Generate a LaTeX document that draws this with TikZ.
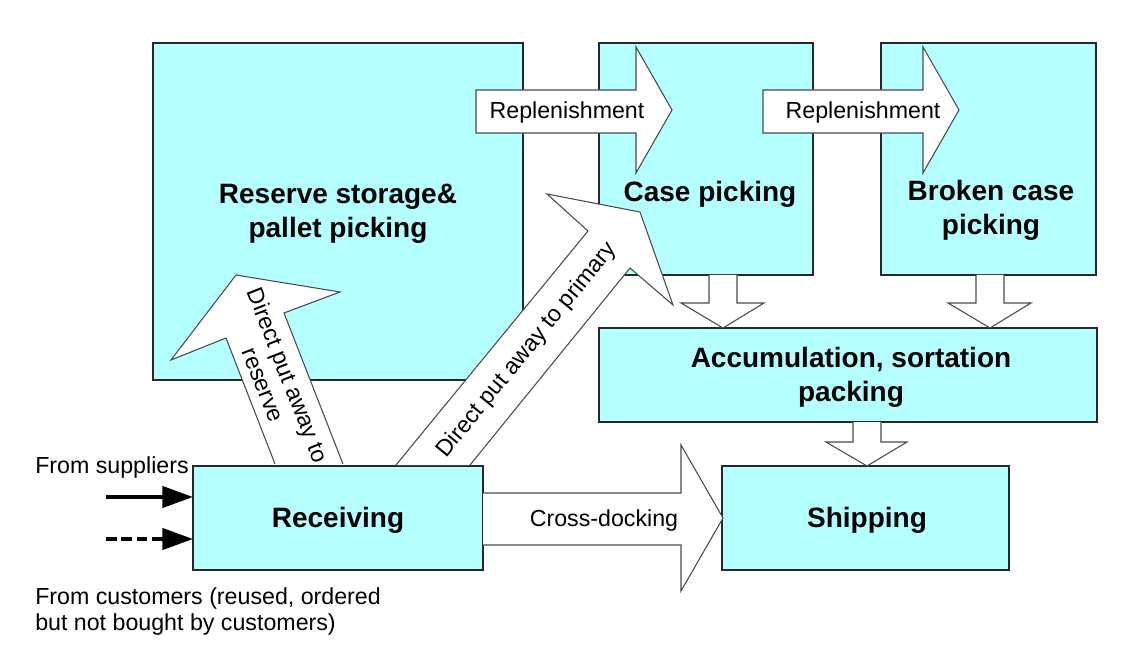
\documentclass[tikz,border=0pt]{standalone}
\usepackage{fontspec}
\setmainfont{Liberation Sans}
\usetikzlibrary{arrows.meta}
\definecolor{boxfill}{RGB}{180,255,255}
\definecolor{edgec}{RGB}{40,40,40}
\definecolor{aedge}{RGB}{75,75,75}
\newcommand\myboxfont{\fontsize{21}{25.5}\selectfont\bfseries}
\newcommand\mylblfont{\fontsize{17.4}{20}\selectfont}
\begin{document}
\begin{tikzpicture}[x=0.75pt,y=-0.75pt,
  box/.style={draw=edgec, line width=1.2pt, fill=boxfill, inner sep=0pt, outer sep=0pt},
  barrow/.style={draw=aedge, line width=0.8pt, fill=white, line join=miter},
  lbl/.style={inner sep=0pt, font=\mylblfont, align=center},
  ttl/.style={inner sep=0pt, font=\myboxfont, align=center, yshift=-2pt},
  feed/.style={line width=2.4pt, -{Triangle[length=23pt,width=16pt]}}]
\useasboundingbox (0,0) rectangle (1133,649);
% boxes
\node[box, minimum width=277.5pt, minimum height=252.75pt] (res) at (338,211.5) {};
\node[box, minimum width=160.5pt, minimum height=174pt] (case) at (706,159) {};
\node[box, minimum width=161.25pt, minimum height=174pt] (brk) at (988.5,159) {};
\node[box, minimum width=373.5pt, minimum height=70.5pt] (acc) at (848,375) {};
\node[box, minimum width=217.5pt, minimum height=78pt] (rcv) at (338,518) {};
\node[box, minimum width=215.25pt, minimum height=78pt] (shp) at (865.5,518) {};
\node[ttl] (restxt) at (res.center) {Reserve storage\&\\pallet picking};
\node[ttl] (acctxt) at (851,375) {Accumulation, sortation\\packing};
\node[ttl] (rcvtxt) at (rcv.center) {Receiving};
\node[ttl] (shptxt) at (867,518) {Shipping};
\node[ttl] (casetxt) at (710,192) {Case picking};
\node[ttl] (brktxt) at (991,208) {Broken case\\picking};
% replenishment arrows
\draw[barrow] (476,90) -- (636,90) -- (636,47) -- (672,110) -- (636,173) -- (636,133) -- (476,133) -- cycle;
\node[lbl, yshift=-2pt] (rep1) at (567,110) {Replenishment};
\draw[barrow] (763,90) -- (923,90) -- (923,47) -- (959,110) -- (923,173) -- (923,133) -- (763,133) -- cycle;
\node[lbl, yshift=-2pt] (rep2) at (863,110) {Replenishment};
% down arrows
\draw[barrow] (709,275) -- (709,303) -- (681,303) -- (723,328) -- (764,303) -- (737,303) -- (737,275);
\draw[barrow] (976,275) -- (976,303) -- (948,303) -- (990,328) -- (1031,303) -- (1004,303) -- (1004,275);
\draw[barrow] (853,422) -- (853,442) -- (826,442) -- (867,466) -- (907,442) -- (881,442) -- (881,422);
% cross docking
\draw[barrow] (483,493) -- (681,493) -- (681,445) -- (723,518) -- (681,591) -- (681,545) -- (483,545);
\node[lbl, yshift=-2pt] (xd) at (604,518) {Cross-docking};
% direct put away to primary
\draw[barrow] (396,465) -- (588,231) -- (547,194) -- (640,212) -- (673,305) -- (630,268) -- (470,465);
\node[lbl, rotate=50.7] (dpp) at (527,350) {Direct put away to primary};
% direct put away to reserve
\draw[barrow] (275,464) -- (226,338) -- (171,360) -- (236,275) -- (340,292) -- (284,313) -- (343,464);
\node[lbl, rotate=-68.7] (dpr) at (276,380) {Direct put away to\\reserve};
% inputs
\coordinate (sup) at (106,497);
\coordinate (cus) at (106,539);
\draw[feed] (sup) -- (sup -| rcv.west);
\draw[feed, dash pattern=on 8pt off 3.5pt] (cus) -- (cus -| rcv.west);
\node[lbl, anchor=base west] (suptxt) at (35,473) {From suppliers};
\node[lbl, anchor=north west, align=left] (custxt) at (35,587) {From customers (reused, ordered\\but not bought by customers)};
\end{tikzpicture}
\end{document}
